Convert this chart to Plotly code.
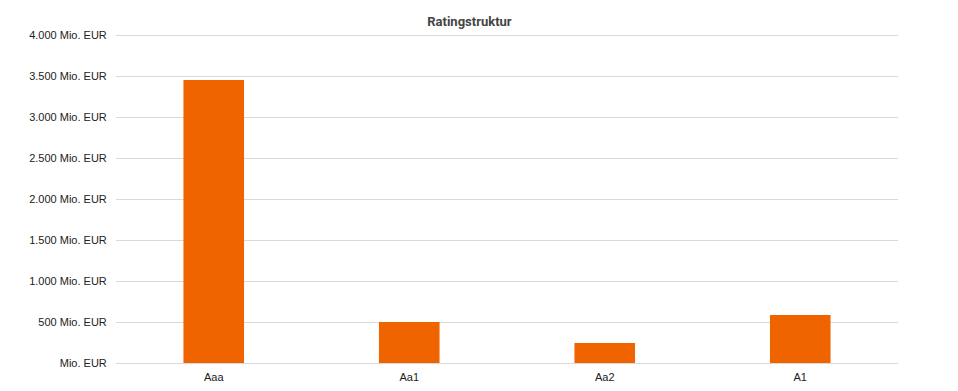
import plotly.graph_objects as go

categories = ["Aaa", "Aa1", "Aa2", "A1"]
values = [3451, 500, 244, 585]
tick_vals = [0, 500, 1000, 1500, 2000, 2500, 3000, 3500, 4000]
tick_text = ["Mio. EUR", "500 Mio. EUR", "1.000 Mio. EUR", "1.500 Mio. EUR", "2.000 Mio. EUR",
             "2.500 Mio. EUR", "3.000 Mio. EUR", "3.500 Mio. EUR", "4.000 Mio. EUR"]

fig = go.Figure(go.Bar(x=categories, y=values, marker=dict(color="#f06400", line=dict(width=0)),
                       hoverinfo="x+y"))

fig.update_layout(
    width=958, height=391,
    margin=dict(l=116, r=60, t=31, b=28),
    paper_bgcolor="white", plot_bgcolor="white",
    bargap=0.69,
    showlegend=False,
    title=dict(text="<b>Ratingstruktur</b>", x=0.49, xanchor="center", y=0.945, yanchor="middle",
               font=dict(family="Roboto, Arial", size=13, color="#444444")),
    font=dict(family="Liberation Sans, Arial", size=11, color="#222222"),
)
fig.update_xaxes(showgrid=False, showline=False, ticks="outside", ticklen=4, automargin=False,
                 tickcolor="rgba(0,0,0,0)", tickfont=dict(size=11, color="#222222"))
fig.update_yaxes(range=[0, 4050], tickvals=tick_vals, ticktext=tick_text, showgrid=True,
                 gridcolor="#d9d9d9", gridwidth=1, zeroline=True, zerolinecolor="#d9d9d9",
                 zerolinewidth=1, automargin=False,
                 showline=False, ticks="outside", ticklen=6, tickcolor="rgba(0,0,0,0)",
                 tickfont=dict(size=11, color="#222222"))

fig.write_html("out.html")
